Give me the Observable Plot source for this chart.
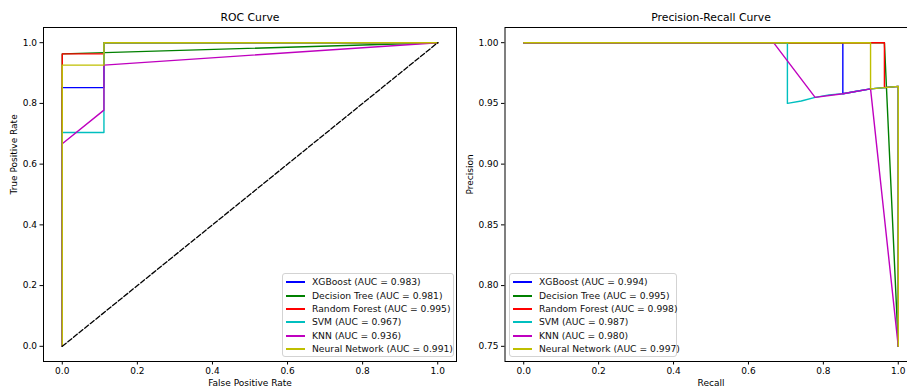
<!DOCTYPE html>
<html><head><meta charset="utf-8">
<script src="https://cdn.jsdelivr.net/npm/d3@7"></script>
<script src="https://cdn.jsdelivr.net/npm/@observablehq/plot@0.6"></script>
<style>
html,body{margin:0;padding:0;background:#fff;overflow:hidden;}
#wrap{position:relative;width:907px;height:388px;overflow:hidden;font-family:"DejaVu Sans",sans-serif;}
.panel{position:absolute;top:0;}
.legend{position:absolute;border:1px solid #d3d3d3;border-radius:3px;background:rgba(255,255,255,0.8);font-size:9.2px;color:#111;box-sizing:border-box;}
.row{position:absolute;left:0;height:12px;white-space:nowrap;}
.row .h{position:absolute;left:3px;top:5px;width:19px;height:2px;}
.row .t{position:absolute;left:29px;top:0;line-height:12px;}
</style>
</head><body>
<div id="wrap"></div>
<script>
// ---- data ----
const models = ["XGBoost", "Decision Tree", "Random Forest", "SVM", "KNN", "Neural Network"];
const colors = ["#0000ff", "#008000", "#ff0000", "#00bfbf", "#bf00bf", "#bfbf00"];
const rocAuc = [0.983, 0.981, 0.995, 0.967, 0.936, 0.991];
const prAuc = [0.994, 0.995, 0.998, 0.987, 0.980, 0.997];

// ROC curves (false positive rate, true positive rate)
const rocFpr = [
  [0, 0, 0.111, 0.111, 1],
  [0, 0, 1],
  [0, 0, 0.111, 0.111, 1],
  [0, 0, 0.111, 0.111, 1],
  [0, 0, 0.111, 0.111, 1],
  [0, 0, 0.111, 0.111, 1]
];
const rocTpr = [
  [0, 0.852, 0.852, 1, 1],
  [0, 0.963, 1],
  [0, 0.963, 0.963, 1, 1],
  [0, 0.704, 0.704, 1, 1],
  [0, 0.667, 0.778, 0.926, 1],
  [0, 0.926, 0.926, 1, 1]
];
const diagX = [0, 1];
const diagY = [0, 1];

// Precision-recall curves (recall, precision)
const prRecall = [
  [0, 0.852, 0.852, 0.889, 0.926, 0.963, 1, 1],
  [0, 0.963, 1],
  [0, 0.963, 0.963, 1, 1],
  [0, 0.704, 0.704, 0.741, 0.778, 0.815, 0.852, 0.889, 0.926, 0.963, 1, 1],
  [0, 0.667, 0.778, 0.852, 0.926, 1],
  [0, 0.926, 0.926, 0.963, 1, 1]
];
const prPrecision = [
  [1, 1, 0.958, 0.960, 0.962, 0.963, 0.964, 0.75],
  [1, 1, 0.75],
  [1, 1, 0.963, 0.964, 0.75],
  [1, 1, 0.950, 0.952, 0.955, 0.957, 0.958, 0.960, 0.962, 0.963, 0.964, 0.75],
  [1, 1, 0.955, 0.958, 0.962, 0.75],
  [1, 1, 0.962, 0.963, 0.964, 0.75]
];

const unitTicks = [0, 0.2, 0.4, 0.6, 0.8, 1.0];
const precTicks = [0.75, 0.80, 0.85, 0.90, 0.95, 1.00];

// ---- build ----
function rows(xs, ys) {
  const out = [];
  models.forEach((m, i) => xs[i].forEach((x, j) => out.push({model: m, x, y: ys[i][j]})));
  return out;
}
const rocRows = rows(rocFpr, rocTpr);
const prRows = rows(prRecall, prPrecision);
const diag = diagX.map((x, i) => ({x, y: diagY[i]}));

const baseStyle = {fontFamily: "DejaVu Sans", fontSize: "9px", color: "black", background: "transparent", overflow: "visible"};

function panel({width, marginLeft, marginRight, ydomain, yticks, yfmt, data, extra, title, xlabel, ylabel, ylabelDx}) {
  return Plot.plot({
    width, height: 388,
    marginLeft, marginRight, marginTop: 27, marginBottom: 27,
    style: baseStyle,
    x: {domain: [-0.05, 1.05]},
    y: {domain: ydomain},
    color: {domain: models, range: colors},
    marks: [
      Plot.line(data, {x: "x", y: "y", z: "model", stroke: "model", strokeWidth: 1.4}),
      ...extra,
      Plot.frame({stroke: "black", strokeWidth: 1}),
      Plot.axisX({ticks: unitTicks, tickFormat: d3.format(".1f"), tickSize: 3.5, tickPadding: 2.5, label: null}),
      Plot.axisY({ticks: yticks, tickFormat: d3.format(yfmt), tickSize: 3.5, tickPadding: 3, label: null}),
      Plot.text([title], {text: d => d, frameAnchor: "top", dy: -10, lineAnchor: "middle", fontSize: 10.8}),
      Plot.text([xlabel], {text: d => d, frameAnchor: "bottom", dy: 22, lineAnchor: "middle", fontSize: 9}),
      Plot.text([ylabel], {text: d => d, frameAnchor: "left", dx: ylabelDx, rotate: -90, lineAnchor: "middle", fontSize: 9})
    ]
  });
}

const left = panel({
  width: 460, marginLeft: 43, marginRight: 4,
  ydomain: [-0.05, 1.05], yticks: unitTicks, yfmt: ".1f",
  data: rocRows,
  extra: [Plot.line(diag, {x: "x", y: "y", stroke: "black", strokeWidth: 1.3, strokeDasharray: "5,2.2"})],
  title: "ROC Curve", xlabel: "False Positive Rate", ylabel: "True Positive Rate", ylabelDx: -29
});
const right = panel({
  width: 457, marginLeft: 44.5, marginRight: 0.5,
  ydomain: [0.7375, 1.0125], yticks: precTicks, yfmt: ".2f",
  data: prRows, extra: [],
  title: "Precision-Recall Curve", xlabel: "Recall", ylabel: "Precision", ylabelDx: -34.5
});

const wrap = document.getElementById("wrap");
left.classList.add("panel"); left.style.left = "0px";
right.classList.add("panel"); right.style.left = "460px";
wrap.appendChild(left);
wrap.appendChild(right);

function legend(x, y, w, aucs) {
  const box = document.createElement("div");
  box.className = "legend";
  Object.assign(box.style, {left: x + "px", top: y + "px", width: w + "px", height: "84px"});
  models.forEach((m, i) => {
    const r = document.createElement("div");
    r.className = "row";
    r.style.top = (2.3 + i * 13.35) + "px";
    const h = document.createElement("div");
    h.className = "h"; h.style.background = colors[i];
    const t = document.createElement("div");
    t.className = "t"; t.textContent = `${m} (AUC = ${aucs[i].toFixed(3)})`;
    r.appendChild(h); r.appendChild(t);
    box.appendChild(r);
  });
  wrap.appendChild(box);
}
legend(282, 273, 172, rocAuc);
legend(509, 273, 168, prAuc);
</script>
</body></html>
